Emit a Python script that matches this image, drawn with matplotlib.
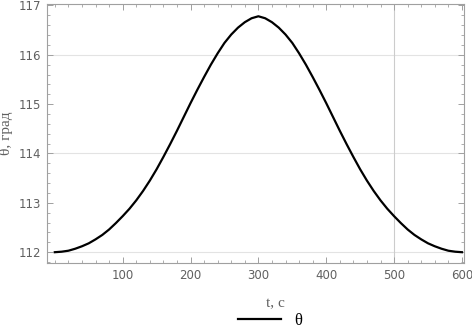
import matplotlib.pyplot as plt
import numpy as np

# time, s
t = [0, 10, 20, 30, 40, 50, 60, 70, 80, 90, 100, 110, 120, 130, 140, 150,
     160, 170, 180, 190, 200, 210, 220, 230, 240, 250, 260, 270, 280, 290,
     300, 310, 320, 330, 340, 350, 360, 370, 380, 390, 400, 410, 420, 430,
     440, 450, 460, 470, 480, 490, 500, 510, 520, 530, 540, 550, 560, 570,
     580, 590, 600]
# theta, grad
theta = [112.00, 112.01, 112.03, 112.07, 112.12, 112.18, 112.26, 112.35,
         112.46, 112.59, 112.73, 112.88, 113.05, 113.24, 113.45, 113.68,
         113.93, 114.19, 114.46, 114.74, 115.02, 115.29, 115.55, 115.80,
         116.03, 116.24, 116.41, 116.55, 116.66, 116.74, 116.78,
         116.74, 116.66, 116.55, 116.41, 116.24, 116.03, 115.80, 115.55,
         115.29, 115.02, 114.74, 114.46, 114.19, 113.93, 113.68, 113.45,
         113.24, 113.05, 112.88, 112.73, 112.59, 112.46, 112.35, 112.26,
         112.18, 112.12, 112.07, 112.03, 112.01, 112.00]

xticks = [100, 200, 300, 400, 500, 600]
yticks = [112, 113, 114, 115, 116, 117]

fig = plt.figure(figsize=(4.72, 3.28), dpi=100)
ax = fig.add_axes([0.0996, 0.198, 0.8834, 0.790])

for g in [112, 114, 116]:
    ax.axhline(g, color='#e3e3e3', lw=0.8, zorder=0)
ax.axvline(500, color='#cccccc', lw=0.8, zorder=0)

ax.plot(t, theta, color='black', lw=1.6, label='θ')

ax.set_xlim(-11.5, 603)
ax.set_ylim(111.78, 117.03)
ax.set_xticks(xticks)
ax.set_yticks(yticks)
ax.set_xticks(np.arange(0, 601, 20), minor=True)
ax.set_yticks(np.arange(111.8, 117.01, 0.2), minor=True)

for s in ax.spines.values():
    s.set_color('#a0a0a0')
    s.set_linewidth(0.8)
ax.tick_params(which='both', direction='in', top=True, right=True,
               color='#a0a0a0', labelcolor='#606060', labelsize=8.5)
ax.tick_params(which='major', length=4, width=0.7, pad=4)
ax.tick_params(which='minor', length=2.2, width=0.6)

ax.set_xlabel('t, с', family='Liberation Serif', fontsize=11, color='#606060')
ax.xaxis.set_label_coords(0.547, -0.13)
ax.set_ylabel('θ, град', family='Liberation Serif', fontsize=11, color='#606060')
ax.yaxis.set_label_coords(-0.082, 0.5)

leg = fig.legend(loc='center', bbox_to_anchor=(270 / 472, 1 - 321 / 328),
                 frameon=False, handlelength=2.6,
                 prop={'family': 'Liberation Serif', 'size': 12})

fig.savefig('out.png', dpi=100)
